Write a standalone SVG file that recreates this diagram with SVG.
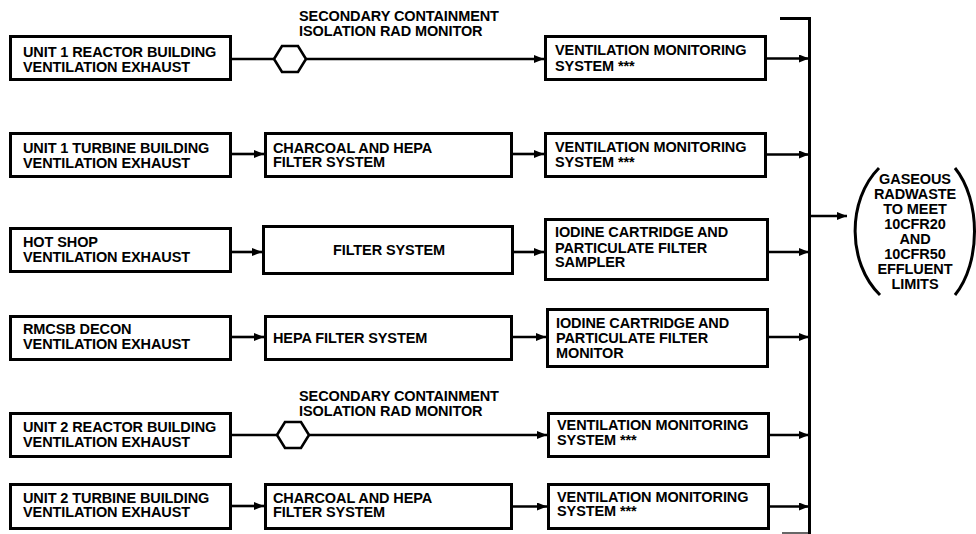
<svg xmlns="http://www.w3.org/2000/svg" width="976" height="534" viewBox="0 0 976 534">
<defs>
<style>
.box{fill:#fff;stroke:#000;stroke-width:3}
.t{font-family:"Liberation Sans",Arial,sans-serif;font-weight:bold;font-size:14.5px;letter-spacing:-0.1px;fill:#000}
.c{text-anchor:middle}
.ln{fill:none;stroke:#000;stroke-width:2.6}
.arr{fill:none;stroke:#000;stroke-width:2.6;marker-end:url(#ah)}
.hex{fill:#fff;stroke:#000;stroke-width:2.6}
.par{fill:none;stroke:#000;stroke-width:3}
</style>
<marker id="ah" viewBox="0 0 10 8" refX="10" refY="4" markerWidth="10" markerHeight="8" markerUnits="userSpaceOnUse" orient="auto">
<path d="M0,0 L10,4 L0,8 Z" fill="#000"/>
</marker>
</defs>
<rect width="976" height="534" fill="#fff"/>

<g id="connectors">
<path class="ln" d="M232,59 H274"/>
<path class="arr" d="M306,59 H544"/>
<path class="arr" d="M767,58.5 H809"/>
<path class="arr" d="M232,154 H264"/>
<path class="arr" d="M513,154 H544"/>
<path class="arr" d="M767,154.5 H809"/>
<path class="arr" d="M232,252 H262"/>
<path class="arr" d="M514,252 H544"/>
<path class="arr" d="M769,252 H809"/>
<path class="arr" d="M232,337 H264"/>
<path class="arr" d="M513,337 H546"/>
<path class="arr" d="M769,337 H809"/>
<path class="ln" d="M232,435 H277"/>
<path class="arr" d="M309,435 H547"/>
<path class="arr" d="M770,435 H809"/>
<path class="arr" d="M232,506 H264"/>
<path class="arr" d="M513,506.5 H547"/>
<path class="arr" d="M770,506.5 H809"/>
<path d="M780,18.5 H809.5 V534" fill="none" stroke="#000" stroke-width="3"/>
<path d="M782,533 H809" fill="none" stroke="#000" stroke-width="1.2"/>
<path class="arr" d="M809,216 H847"/>
</g>

<g id="hex1"><polygon class="hex" points="274,59 282,46 298,46 306,59 298,72 282,72"/></g>
<g id="hex1-label"><text class="t" x="299" y="20.5">SECONDARY CONTAINMENT</text><text class="t" x="299" y="35.5">ISOLATION RAD MONITOR</text></g>
<g id="hex2"><polygon class="hex" points="277,435 285,422 301,422 309,435 301,448 285,448"/></g>
<g id="hex2-label"><text class="t" x="299" y="401">SECONDARY CONTAINMENT</text><text class="t" x="299" y="415.5">ISOLATION RAD MONITOR</text></g>

<g id="u1rb"><rect class="box" x="10.5" y="36.5" width="220" height="43"/><text class="t" x="23" y="56.7">UNIT 1 REACTOR BUILDING</text><text class="t" x="23" y="71.7">VENTILATION EXHAUST</text></g>
<g id="u1tb"><rect class="box" x="10.5" y="133.5" width="220" height="43"/><text class="t" x="23" y="152.7">UNIT 1 TURBINE BUILDING</text><text class="t" x="23" y="167.5">VENTILATION EXHAUST</text></g>
<g id="hotshop"><rect class="box" x="10.5" y="228.5" width="220" height="43"/><text class="t" x="23" y="246.7">HOT SHOP</text><text class="t" x="23" y="261.7">VENTILATION EXHAUST</text></g>
<g id="rmcsb"><rect class="box" x="10.5" y="316.5" width="220" height="43"/><text class="t" x="23" y="334">RMCSB DECON</text><text class="t" x="23" y="348.5">VENTILATION EXHAUST</text></g>
<g id="u2rb"><rect class="box" x="10.5" y="413.5" width="220" height="43"/><text class="t" x="23" y="431.7">UNIT 2 REACTOR BUILDING</text><text class="t" x="23" y="446.7">VENTILATION EXHAUST</text></g>
<g id="u2tb"><rect class="box" x="10.5" y="484.5" width="220" height="44"/><text class="t" x="23" y="502.7">UNIT 2 TURBINE BUILDING</text><text class="t" x="23" y="517.3">VENTILATION EXHAUST</text></g>

<g id="charcoal1"><rect class="box" x="265.5" y="133.5" width="246" height="43"/><text class="t" x="273" y="152.7">CHARCOAL AND HEPA</text><text class="t" x="273" y="167.3">FILTER SYSTEM</text></g>
<g id="filter"><rect class="box" x="263.5" y="226.5" width="249" height="47"/><text class="t c" x="389" y="255">FILTER SYSTEM</text></g>
<g id="hepa"><rect class="box" x="265.5" y="316.5" width="246" height="43"/><text class="t" x="273" y="342.7">HEPA FILTER SYSTEM</text></g>
<g id="charcoal2"><rect class="box" x="265.5" y="484.5" width="246" height="44"/><text class="t" x="273" y="502.7">CHARCOAL AND HEPA</text><text class="t" x="273" y="517.3">FILTER SYSTEM</text></g>

<g id="vms1"><rect class="box" x="545.5" y="36.5" width="220" height="43"/><text class="t" x="555" y="55">VENTILATION MONITORING</text><text class="t" x="555" y="70.7">SYSTEM ***</text></g>
<g id="vms2"><rect class="box" x="545.5" y="133.5" width="220" height="43"/><text class="t" x="555" y="151.7">VENTILATION MONITORING</text><text class="t" x="555" y="166.7">SYSTEM ***</text></g>
<g id="sampler"><rect class="box" x="545.5" y="219.5" width="222" height="60"/><text class="t" x="555" y="237">IODINE CARTRIDGE AND</text><text class="t" x="555" y="252.5">PARTICULATE FILTER</text><text class="t" x="555" y="267">SAMPLER</text></g>
<g id="monitor"><rect class="box" x="547.5" y="309.5" width="220" height="57"/><text class="t" x="556" y="328">IODINE CARTRIDGE AND</text><text class="t" x="556" y="343">PARTICULATE FILTER</text><text class="t" x="556" y="357.5">MONITOR</text></g>
<g id="vms5"><rect class="box" x="548.5" y="413.5" width="220" height="43"/><text class="t" x="557" y="430">VENTILATION MONITORING</text><text class="t" x="557" y="445">SYSTEM ***</text></g>
<g id="vms6"><rect class="box" x="548.5" y="484.5" width="220" height="44"/><text class="t" x="557" y="501.7">VENTILATION MONITORING</text><text class="t" x="557" y="516.3">SYSTEM ***</text></g>

<g id="result">
<path class="par" d="M879,168 C847,200 847,263 880,295"/>
<path class="par" d="M955,168 C981,200 981,263 955,295"/>
<text class="t c" x="915" y="184">GASEOUS</text>
<text class="t c" x="915" y="199">RADWASTE</text>
<text class="t c" x="915" y="214">TO MEET</text>
<text class="t c" x="915" y="229">10CFR20</text>
<text class="t c" x="915" y="244">AND</text>
<text class="t c" x="915" y="259">10CFR50</text>
<text class="t c" x="915" y="274">EFFLUENT</text>
<text class="t c" x="915" y="288.5">LIMITS</text>
</g>
</svg>
